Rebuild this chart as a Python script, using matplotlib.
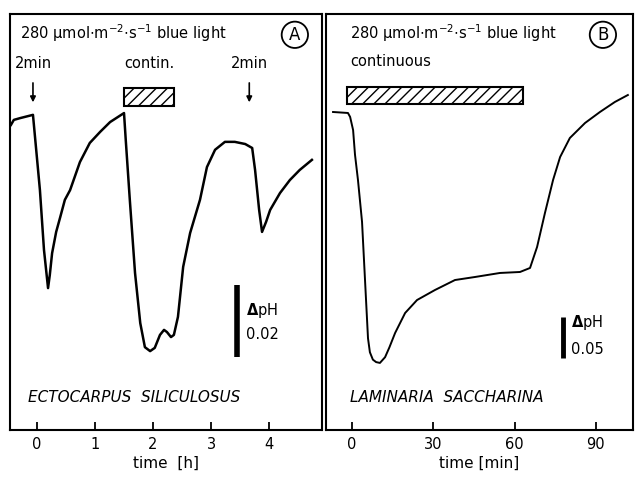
import matplotlib
matplotlib.use('Agg')
from matplotlib import pyplot as plt
from matplotlib.patches import Rectangle

plt.rcParams['font.family'] = 'DejaVu Sans'
plt.rcParams['mathtext.fontset'] = 'dejavusans'

# panel A: Ectocarpus, time in h, pH change
t_a = [-0.45, -0.40, -0.29, -0.07, 0.05, 0.12, 0.19, 0.22, 0.26, 0.33, 0.40, 0.48,
       0.57, 0.74, 0.91, 1.09, 1.26, 1.50, 1.53, 1.60, 1.69, 1.78, 1.86, 1.95, 2.03,
       2.12, 2.19, 2.24, 2.31, 2.36, 2.43, 2.52, 2.64, 2.81, 2.93, 3.07, 3.24, 3.41,
       3.59, 3.71, 3.76, 3.83, 3.88, 3.95, 4.02, 4.19, 4.36, 4.53, 4.74]
ph_a = [0.0, 0.0014, 0.0019, 0.0028, -0.0181, -0.0347, -0.0453, -0.0417, -0.0356,
        -0.0297, -0.0256, -0.0208, -0.0181, -0.0103, -0.0050, -0.0019, 0.0008, 0.0033,
        -0.0042, -0.0208, -0.0411, -0.0550, -0.0617, -0.0628, -0.0619, -0.0583, -0.0569,
        -0.0575, -0.0589, -0.0583, -0.0533, -0.0394, -0.0300, -0.0208, -0.0117, -0.0069,
        -0.0047, -0.0047, -0.0053, -0.0064, -0.0125, -0.0236, -0.0297, -0.0269, -0.0236,
        -0.0189, -0.0153, -0.0125, -0.0097]

# panel B: Laminaria, time in min
t_b = [-7.0, -1.5, -0.7, 0.4, 1.1, 2.2, 3.7, 4.8, 5.9, 6.6, 7.7, 8.9, 10.3, 12.2, 13.8,
       15.9, 19.6, 24.0, 30.6, 38.0, 45.4, 54.6, 62.0, 65.7, 68.3, 71.2, 74.2, 76.8,
       80.4, 86.0, 91.5, 97.0, 101.8]
ph_b = [0.0, -0.0012, -0.006, -0.022, -0.052, -0.083, -0.134, -0.205, -0.276, -0.293,
        -0.302, -0.305, -0.306, -0.299, -0.287, -0.2695, -0.2451, -0.2293, -0.2171,
        -0.2049, -0.2012, -0.1963, -0.1951, -0.1902, -0.1646, -0.1232, -0.0829, -0.0549,
        -0.0317, -0.0134, 0.0, 0.0122, 0.0207]

ticks_a = [0, 1, 2, 3, 4]
ticks_b = [0, 30, 60, 90]
pulses_a = [-0.07, 3.66]
light_a = (1.50, 2.36)
light_b = (-1.8, 63.0)
title = r'280 µmol$\cdot$m$^{-2}$$\cdot$s$^{-1}$ blue light'

fig = plt.figure(figsize=(6.35, 4.78), dpi=100)
axA = fig.add_axes([10 / 635, 48 / 478, 312 / 635, 416 / 478])
axB = fig.add_axes([326 / 635, 48 / 478, 307 / 635, 416 / 478])


def style(ax, ticks, xlabel):
    for s in ax.spines.values():
        s.set_linewidth(1.5)
    ax.set_yticks([])
    ax.set_xticks(ticks)
    ax.tick_params(axis='x', direction='in', length=6, width=1.3, pad=5, labelsize=10.5)
    ax.set_xlabel(xlabel, fontsize=11, labelpad=3)


axA.plot(t_a, ph_a, 'k', lw=1.8)
axA.set_xlim(-0.466, 4.914)
axA.set_ylim(-0.0847, 0.0308)
style(axA, ticks_a, 'time  [h]')

axB.plot(t_b, ph_b, 'k', lw=1.4)
axB.set_xlim(-9.6, 103.7)
axB.set_ylim(-0.3878, 0.1195)
style(axB, ticks_b, 'time [min]')

# panel A annotations
axA.text(0.032, 0.954, title, transform=axA.transAxes, fontsize=10.5, va='center')
axA.text(0.913, 0.95, 'A', transform=axA.transAxes, fontsize=12, ha='center', va='center',
         bbox=dict(boxstyle='circle,pad=0.25', fc='white', ec='black', lw=1.3))
tr = axA.get_xaxis_transform()
for p in pulses_a:
    axA.text(p, 0.882, '2min', transform=tr, fontsize=10.5, ha='center', va='center')
    axA.annotate('', xy=(p, 0.781), xytext=(p, 0.841), xycoords=tr, textcoords=tr,
                 arrowprops=dict(arrowstyle='-|>', color='k', lw=1.2, mutation_scale=8))
axA.text(sum(light_a) / 2, 0.882, 'contin.', transform=tr, fontsize=10.5, ha='center', va='center')
axA.add_patch(Rectangle((light_a[0], 0.779), light_a[1] - light_a[0], 0.043, transform=tr,
                        fc='white', ec='black', lw=1.5, hatch='///'))
axA.plot([3.45, 3.45], [-0.0444, -0.0644], 'k', lw=4, solid_capstyle='butt')
axA.text(3.6, -0.0514, r'$\mathbf{\Delta}$pH', fontsize=10.5, va='center')
axA.text(3.6, -0.0583, '0.02', fontsize=10.5, va='center')
axA.text(0.058, 0.077, 'ECTOCARPUS  SILICULOSUS', transform=axA.transAxes, fontsize=11,
         style='italic', va='center')

# panel B annotations
axB.text(0.078, 0.954, title, transform=axB.transAxes, fontsize=10.5, va='center')
axB.text(0.902, 0.95, 'B', transform=axB.transAxes, fontsize=12, ha='center', va='center',
         bbox=dict(boxstyle='circle,pad=0.25', fc='white', ec='black', lw=1.3))
trb = axB.get_xaxis_transform()
axB.text(0.078, 0.885, 'continuous', transform=axB.transAxes, fontsize=10.5, va='center')
axB.add_patch(Rectangle((light_b[0], 0.784), light_b[1] - light_b[0], 0.041, transform=trb,
                        fc='white', ec='black', lw=1.5, hatch='///'))
axB.plot([77.9, 77.9], [-0.25, -0.30], 'k', lw=3.5, solid_capstyle='butt')
axB.text(80.8, -0.257, r'$\mathbf{\Delta}$pH', fontsize=10.5, va='center')
axB.text(80.8, -0.290, '0.05', fontsize=10.5, va='center')
axB.text(0.078, 0.077, 'LAMINARIA  SACCHARINA', transform=axB.transAxes, fontsize=11,
         style='italic', va='center')

fig.savefig('out.png', dpi=100)
